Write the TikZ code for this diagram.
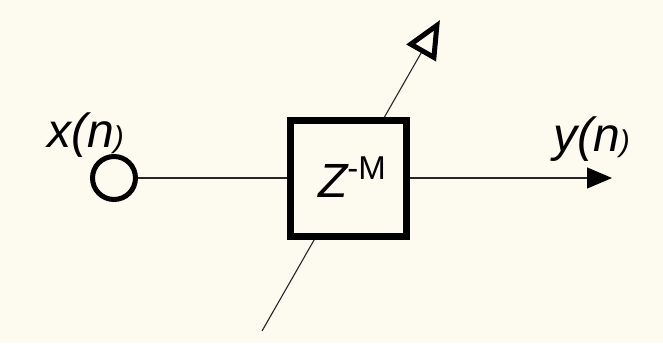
\documentclass[tikz,border=0pt]{standalone}
\usepackage{fontspec}
\setmainfont{Liberation Sans}
\usetikzlibrary{arrows.meta}
\definecolor{bgc}{RGB}{253,251,240}
\begin{document}
\begin{tikzpicture}[x=1pt,y=-1pt,
  thinline/.style={line width=1.1pt, draw=black!85},
  delaybox/.style={draw, line width=7pt, fill=bgc, minimum size=116pt, inner sep=0pt},
  inport/.style={draw, circle, line width=5pt, minimum size=43pt, inner sep=0pt, fill=bgc},
  lbl/.style={inner sep=0pt, font=\fontsize{48}{48}\selectfont\itshape}]
\fill[bgc] (0,0) rectangle (663,343);
\useasboundingbox (0,0) rectangle (663,343);
\coordinate (dstart) at (262,331);
\coordinate (dtip) at (440,20);
\coordinate (yend) at (612,178);
\draw[thinline, -{Triangle[open, length=38pt, width=33pt, line width=5pt, color=black]}] (dstart) -- (dtip);
\node[delaybox] (box) at (348.5,178) {};
\node[inport] (xin) at (114,178) {};
\node[lbl, anchor=base] (ztxt) at (352,197) {Z\raisebox{18pt}{\upshape\fontsize{33}{33}\selectfont -M}};
\node[lbl, anchor=base west] (xl) at (47,147) {x(n{\fontsize{30}{30}\selectfont )}};
\node[lbl, anchor=base west] (yl) at (553,151) {y(n{\fontsize{30}{30}\selectfont )}};
\draw[thinline] (xin) -- (box);
\draw[thinline, -{Triangle[length=25pt, width=21pt, color=black]}] (box) -- (yend);
\end{tikzpicture}
\end{document}
